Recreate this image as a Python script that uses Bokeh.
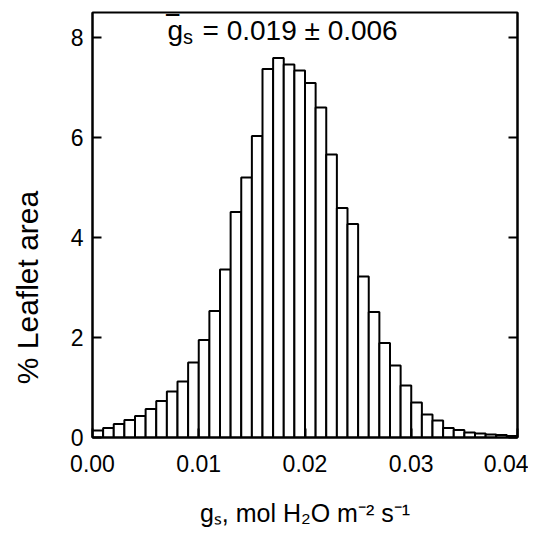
from bokeh.plotting import figure
from bokeh.models import Label, Range1d, LinearAxis
from bokeh.embed import file_html
from bokeh.resources import INLINE

# ---- data ----
bin_width = 0.001
bin_left = [round(i * bin_width, 3) for i in range(40)]
leaflet_pct = [0.14, 0.19, 0.27, 0.35, 0.43, 0.57, 0.73, 0.92, 1.12, 1.50,
               1.95, 2.53, 3.36, 4.51, 5.20, 6.03, 7.37, 7.59, 7.46, 7.34,
               7.09, 6.60, 5.66, 4.59, 4.27, 3.22, 2.51, 1.89, 1.44, 1.04,
               0.70, 0.46, 0.34, 0.19, 0.15, 0.10, 0.08, 0.06, 0.05, 0.03]
x_ticks = [0.0, 0.01, 0.02, 0.03, 0.04]
x_tick_labels = ["0.00", "0.01", "0.02", "0.03", "0.04"]
y_ticks = [0, 2, 4, 6, 8]
y_tick_labels = ["0", "2", "4", "6", "8"]
mean_text = "0.019"
sd_text = "0.006"

FONT = "Liberation Sans"

p = figure(width=528, height=530, output_backend="svg", toolbar_location=None,
           x_range=Range1d(0, 0.04), y_range=Range1d(0, 8.5),
           min_border_left=92, min_border_right=11, min_border_top=12,
           min_border_bottom=93)
p.xgrid.visible = False
p.ygrid.visible = False
p.outline_line_color = "black"
p.outline_line_width = 2
p.outline_line_alpha = 1.0

p.quad(left=bin_left, right=[b + bin_width for b in bin_left],
       bottom=0, top=leaflet_pct, fill_color="white",
       line_color="black", line_width=2)

for ax in (p.xaxis[0], p.yaxis[0]):
    ax.axis_line_width = 2
    ax.major_tick_line_width = 2
    ax.major_tick_in = 9
    ax.major_tick_out = 0
    ax.minor_tick_line_color = None
    ax.major_label_text_font = FONT
    ax.major_label_text_font_size = "23px"
    ax.major_label_text_color = "black"

p.xaxis.major_label_standoff = 17
p.yaxis.major_label_standoff = 9

p.xaxis.ticker = x_ticks
p.xaxis.major_label_overrides = {t: l for t, l in zip(x_ticks, x_tick_labels)}
p.yaxis.ticker = y_ticks
p.yaxis.major_label_overrides = {t: l for t, l in zip(y_ticks, y_tick_labels)}

# y label (trailing no-break spaces move the visible text lower, as in the original)
p.yaxis.axis_label = "% Leaflet area" + "\u00a0" * 15
p.yaxis.axis_label_text_font = FONT
p.yaxis.axis_label_text_font_size = "30px"
p.yaxis.axis_label_text_font_style = "normal"
p.yaxis.axis_label_text_color = "black"
p.yaxis.axis_label_standoff = 24

# x label with unicode sub/superscripts
p.xaxis.axis_label = "g\u209b, mol H\u2082O m\u207b\u00b2 s\u207b\u00b9"
p.xaxis.axis_label_text_font = FONT
p.xaxis.axis_label_text_font_size = "25px"
p.xaxis.axis_label_text_font_style = "normal"
p.xaxis.axis_label_text_color = "black"
p.xaxis.axis_label_standoff = 24

right = LinearAxis(ticker=y_ticks,
                   major_label_overrides={t: "" for t in y_ticks},
                   axis_line_width=2, major_tick_line_width=2,
                   major_tick_in=9, major_tick_out=0,
                   minor_tick_line_color=None)
p.add_layout(right, "right")


def add_text(x, y, dx, dy, text, size):
    p.add_layout(Label(x=x, y=y, x_offset=dx, y_offset=dy, text=text,
                       text_font=FONT, text_font_size=f"{size}px",
                       text_color="black", text_align="left",
                       text_baseline="alphabetic"))


# ---- mean g_s annotation inside the plot ----
t_size, t_sub = 28, 20
tx, ty = 75, 7
add_text(0.0, 8.0, tx, ty, "g", t_size)
add_text(0.0, 8.0, tx - 0.5, ty + 2, "\u203e", 34)
add_text(0.0, 8.0, tx + 15.5, ty - 6, "s", t_sub)
add_text(0.0, 8.0, tx + 35, ty, f"= {mean_text} \u00b1 {sd_text}", t_size)

open("out.html", "w").write(file_html(p, INLINE))
